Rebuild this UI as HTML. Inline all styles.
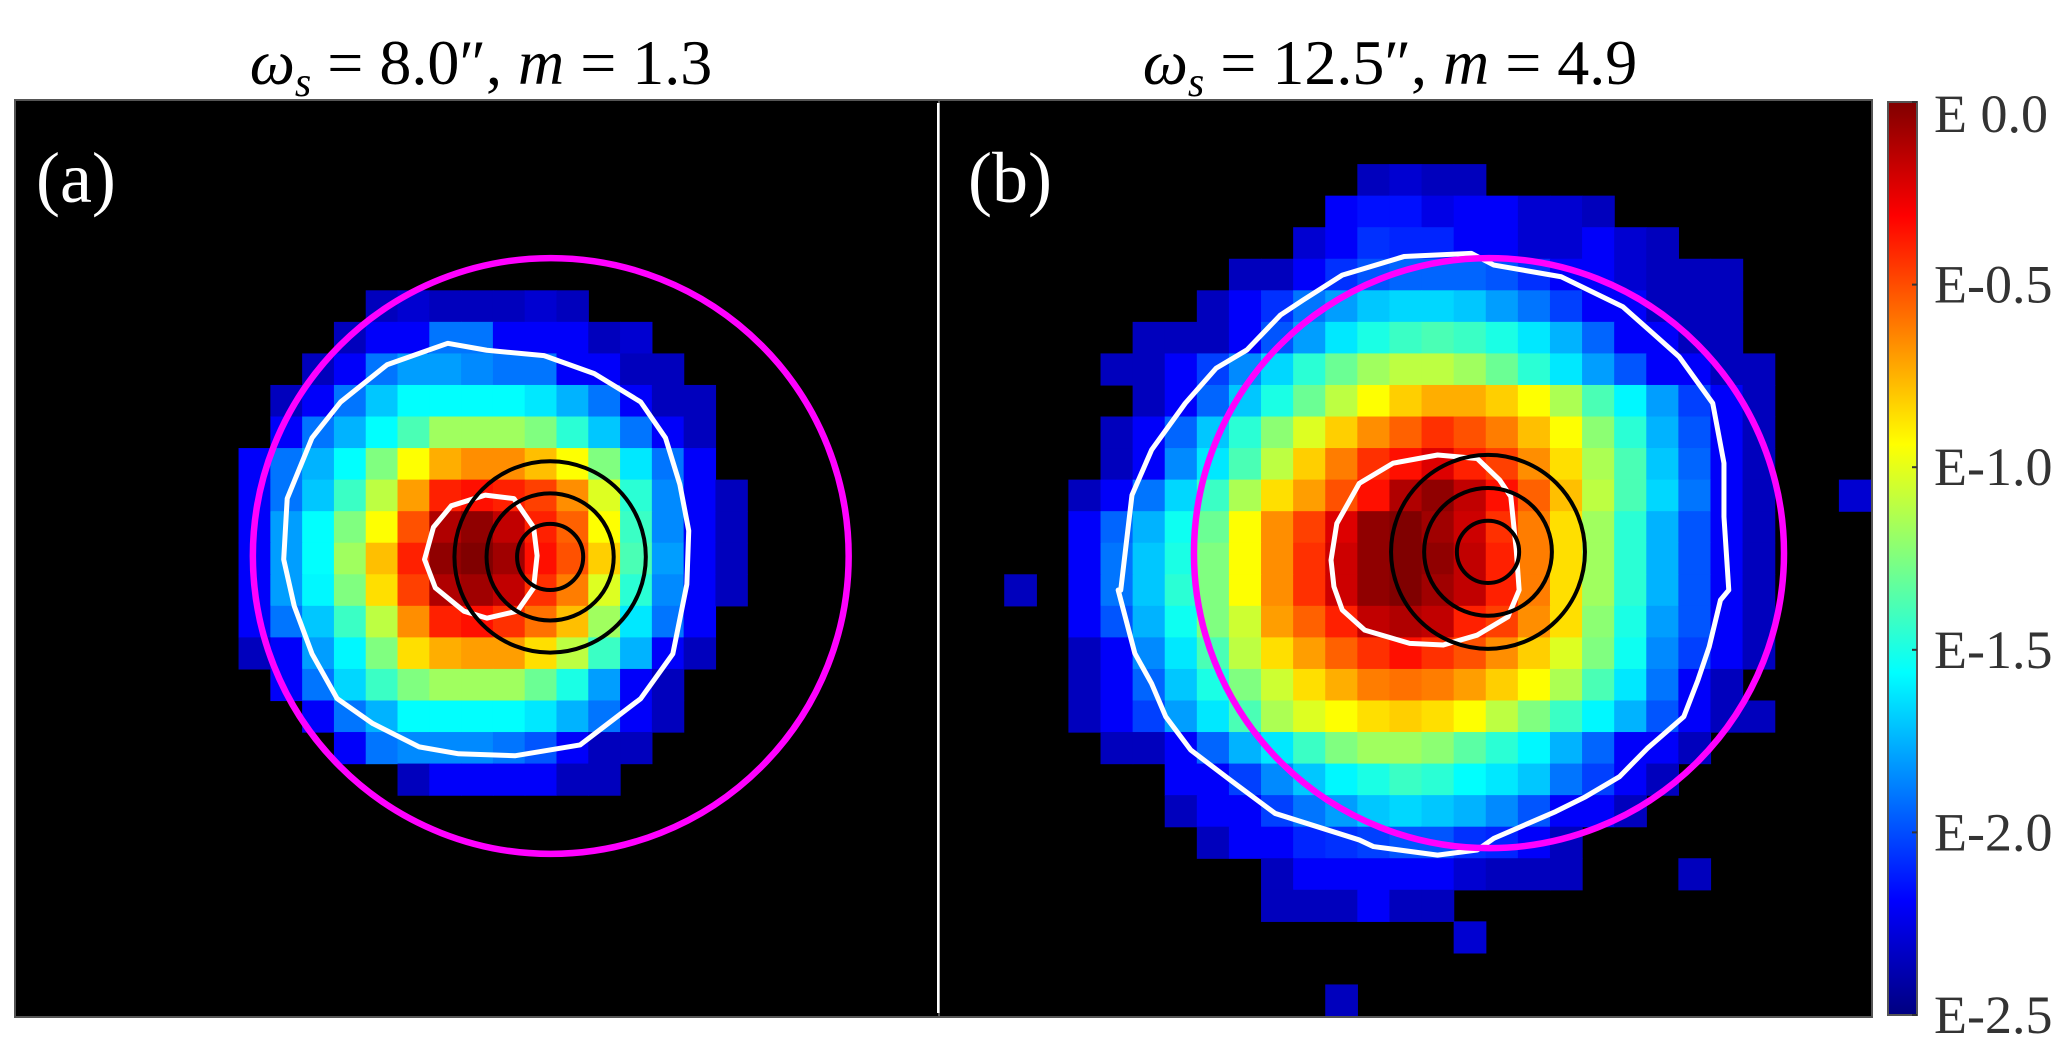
<!DOCTYPE html>
<html><head><meta charset="utf-8"><style>
html,body{margin:0;padding:0;background:#fff;}
svg{display:block;}
text{font-family:"Liberation Serif","DejaVu Serif",serif;}
</style></head><body>
<svg id="fig" width="2067" height="1054" viewBox="0 0 2067 1054" xmlns="http://www.w3.org/2000/svg">
<defs>
<linearGradient id="jet" x1="0" y1="1" x2="0" y2="0">
<stop offset="0" stop-color="#000080"/><stop offset="0.125" stop-color="#0000ff"/><stop offset="0.375" stop-color="#00ffff"/><stop offset="0.625" stop-color="#ffff00"/><stop offset="0.875" stop-color="#ff0000"/><stop offset="1" stop-color="#800000"/>
</linearGradient>
<clipPath id="clipA"><rect x="16" y="101" width="922" height="915"/></clipPath>
<clipPath id="clipB"><rect x="940" y="101" width="931" height="915"/></clipPath>
</defs>
<text x="481" y="84" font-size="64" text-anchor="middle" xml:space="preserve"><tspan font-style="italic">ω</tspan><tspan font-style="italic" font-size="42" dy="12">s</tspan><tspan dy="-12"> = 8.0″, </tspan><tspan font-style="italic">m</tspan><tspan> = 1.3</tspan></text>
<text x="1390" y="84" font-size="64" text-anchor="middle" xml:space="preserve"><tspan font-style="italic">ω</tspan><tspan font-style="italic" font-size="42" dy="12">s</tspan><tspan dy="-12"> = 12.5″, </tspan><tspan font-style="italic">m</tspan><tspan> = 4.9</tspan></text>
<rect x="15" y="100" width="924" height="917" fill="#000" stroke="#555" stroke-width="2"/>
<rect x="939" y="100" width="933" height="917" fill="#000" stroke="#555" stroke-width="2"/>
<g id="cellsA" clip-path="url(#clipA)"></g>
<g id="cellsB" clip-path="url(#clipB)"></g>
<g id="overA" clip-path="url(#clipA)"></g>
<g id="overB" clip-path="url(#clipB)"></g>
<rect x="937" y="103" width="2.5" height="910" fill="#fff"/>
<text x="36" y="202" font-size="72" fill="#fff">(a)</text>
<text x="968" y="202" font-size="72" fill="#fff">(b)</text>
<rect x="1888" y="102" width="29" height="913" fill="url(#jet)" stroke="#555" stroke-width="2"/>
<g id="cbTicks"></g>
</svg>
<script>
// colour-scale ticks
const cbTickValues = [0, -0.5, -1.0, -1.5, -2.0, -2.5];
const cbTickLabels = ["E 0.0", "E-0.5", "E-1.0", "E-1.5", "E-2.0", "E-2.5"];

// Panel (a) heatmap: log10 intensity per cell
const aRows = [6,7,8,9,10,11,12,13,14,15,16,17,18,19,20,21];
const aStarts = [11,10,9,8,8,7,7,7,7,7,7,7,8,9,10,12];
const aValues = [
[-2.35,-2.3,-2.35,-2.35,-2.35,-2.3,-2.35],
[-2.35,-2.2,-2.2,-1.9,-1.9,-2.2,-2.2,-2.2,-2.35,-2.3],
[-2.35,-2.2,-1.9,-1.8,-1.8,-1.85,-1.9,-1.9,-2.2,-2.2,-2.35,-2.35],
[-2.35,-2.2,-1.9,-1.7,-1.56,-1.56,-1.56,-1.56,-1.62,-1.75,-1.9,-2.2,-2.35,-2.35],
[-2.2,-1.9,-1.75,-1.56,-1.38,-1.17,-1.17,-1.17,-1.25,-1.46,-1.7,-1.9,-2.2,-2.35],
[-2.2,-1.9,-1.75,-1.56,-1.25,-0.94,-0.74,-0.66,-0.66,-0.78,-0.94,-1.25,-1.62,-1.9,-2.2],
[-2.2,-1.9,-1.7,-1.42,-1.1,-0.7,-0.39,-0.35,-0.39,-0.47,-0.66,-1.02,-1.46,-1.85,-2.2,-2.35],
[-2.2,-1.8,-1.56,-1.25,-0.94,-0.51,-0.12,-0.04,-0.16,-0.39,-0.55,-0.94,-1.42,-1.85,-2.2,-2.35],
[-2.2,-1.8,-1.56,-1.17,-0.78,-0.39,-0.04,0,-0.08,-0.35,-0.51,-0.82,-1.38,-1.8,-2.2,-2.35],
[-2.2,-1.8,-1.58,-1.25,-0.86,-0.47,-0.12,-0.08,-0.16,-0.43,-0.62,-1.02,-1.46,-1.85,-2.2,-2.35],
[-2.2,-1.9,-1.7,-1.42,-1.1,-0.66,-0.39,-0.35,-0.43,-0.59,-0.78,-1.17,-1.62,-1.9,-2.2],
[-2.35,-2.2,-1.8,-1.58,-1.25,-0.86,-0.74,-0.7,-0.7,-0.86,-1.1,-1.42,-1.75,-2.2,-2.35],
[-2.2,-1.9,-1.66,-1.42,-1.25,-1.17,-1.17,-1.17,-1.3,-1.5,-1.8,-2.2,-2.35],
[-2.2,-1.9,-1.75,-1.56,-1.56,-1.56,-1.56,-1.62,-1.75,-1.9,-2.2,-2.35],
[-2.2,-1.9,-1.85,-1.85,-1.85,-1.9,-1.98,-2.2,-2.35,-2.35],
[-2.35,-2.2,-2.2,-2.2,-2.2,-2.35,-2.35]
];

// Panel (b) heatmap
const bRows = [2,3,4,5,6,7,8,9,10,11,12,12,13,14,15,15,16,17,18,19,20,21,22,23,24,24,25,26,28];
const bStarts = [13,12,11,9,8,6,5,6,5,5,4,28,4,4,4,2,4,4,4,4,5,7,7,8,10,23,10,16,12];
const bValues = [
[-2.35,-2.3,-2.35,-2.35],
[-2.2,-2.15,-2.15,-2.25,-2.2,-2.2,-2.3,-2.3,-2.35],
[-2.3,-2.2,-2.07,-2.1,-2.1,-2.2,-2.2,-2.3,-2.3,-2.2,-2.3,-2.35],
[-2.35,-2.35,-2.2,-2.07,-1.98,-1.94,-1.94,-1.94,-1.98,-2.07,-2.2,-2.2,-2.3,-2.35,-2.35,-2.35],
[-2.35,-2.2,-2.07,-1.9,-1.8,-1.7,-1.66,-1.66,-1.7,-1.8,-1.9,-2.03,-2.2,-2.2,-2.35,-2.35,-2.35],
[-2.35,-2.35,-2.35,-2.2,-1.98,-1.8,-1.62,-1.5,-1.42,-1.38,-1.42,-1.5,-1.62,-1.75,-1.94,-2.2,-2.2,-2.35,-2.35],
[-2.35,-2.35,-2.2,-2.03,-1.85,-1.66,-1.46,-1.3,-1.17,-1.1,-1.1,-1.17,-1.3,-1.46,-1.62,-1.8,-1.98,-2.2,-2.2,-2.35,-2.35],
[-2.35,-2.2,-1.94,-1.7,-1.5,-1.3,-1.1,-0.94,-0.82,-0.74,-0.74,-0.82,-0.94,-1.14,-1.38,-1.58,-1.8,-2.03,-2.2,-2.35],
[-2.35,-2.2,-1.94,-1.7,-1.46,-1.22,-1.02,-0.82,-0.66,-0.55,-0.43,-0.51,-0.62,-0.78,-0.94,-1.22,-1.46,-1.75,-1.98,-2.2,-2.35],
[-2.35,-2.2,-1.85,-1.62,-1.38,-1.1,-0.82,-0.62,-0.43,-0.35,-0.23,-0.39,-0.47,-0.66,-0.86,-1.14,-1.38,-1.7,-1.94,-2.2,-2.35],
[-2.35,-2.2,-1.9,-1.66,-1.42,-1.14,-0.86,-0.7,-0.51,-0.35,-0.12,-0.04,-0.16,-0.35,-0.55,-0.78,-1.1,-1.38,-1.66,-1.9,-2.2,-2.35],
[-2.3],
[-2.2,-1.94,-1.75,-1.53,-1.3,-0.94,-0.66,-0.47,-0.23,-0.04,0,-0.08,-0.19,-0.43,-0.62,-0.86,-1.17,-1.46,-1.75,-1.98,-2.2,-2.35],
[-2.2,-1.9,-1.7,-1.5,-1.25,-0.94,-0.66,-0.43,-0.19,-0.04,0,-0.04,-0.16,-0.39,-0.62,-0.86,-1.17,-1.46,-1.75,-1.98,-2.2,-2.35],
[-2.2,-1.9,-1.7,-1.46,-1.25,-0.94,-0.66,-0.43,-0.19,-0.04,0,-0.08,-0.16,-0.39,-0.62,-0.86,-1.17,-1.46,-1.75,-1.98,-2.2,-2.35],
[-2.35],
[-2.2,-1.98,-1.75,-1.53,-1.25,-1.06,-0.7,-0.55,-0.39,-0.16,-0.12,-0.16,-0.39,-0.47,-0.66,-0.86,-1.22,-1.5,-1.8,-1.98,-2.2,-2.35],
[-2.35,-2.2,-1.85,-1.62,-1.38,-1.1,-0.86,-0.7,-0.55,-0.43,-0.35,-0.43,-0.51,-0.66,-0.82,-1.02,-1.25,-1.53,-1.85,-2.03,-2.2,-2.35],
[-2.35,-2.2,-1.94,-1.7,-1.5,-1.25,-1.06,-0.86,-0.74,-0.62,-0.59,-0.62,-0.7,-0.82,-0.94,-1.14,-1.38,-1.62,-1.9,-2.2,-2.35],
[-2.35,-2.2,-2.03,-1.8,-1.62,-1.38,-1.14,-1.02,-0.94,-0.86,-0.82,-0.86,-0.94,-1.1,-1.25,-1.42,-1.58,-1.75,-1.98,-2.2,-2.35,-2.35],
[-2.35,-2.35,-2.2,-1.94,-1.75,-1.62,-1.42,-1.25,-1.17,-1.17,-1.22,-1.34,-1.46,-1.58,-1.75,-1.94,-2.2,-2.2,-2.35],
[-2.2,-2.2,-2.03,-1.85,-1.7,-1.58,-1.5,-1.42,-1.46,-1.56,-1.62,-1.7,-1.9,-2.03,-2.2,-2.35],
[-2.35,-2.2,-2.2,-2.03,-1.9,-1.8,-1.7,-1.66,-1.7,-1.75,-1.85,-1.98,-2.2,-2.2,-2.35],
[-2.35,-2.2,-2.2,-2.1,-2.07,-2.03,-1.98,-1.98,-2.07,-2.1,-2.2,-2.35],
[-2.35,-2.2,-2.2,-2.2,-2.2,-2.2,-2.3,-2.35,-2.35,-2.35],
[-2.35],
[-2.35,-2.35,-2.35,-2.2,-2.35,-2.35],
[-2.3],
[-2.35]
];

// contours (grid units: column, row)
const aInnerContourX = [12.85,13.13,13.69,14.76,15.66,16.28,16.39,16.28,15.77,14.81,14.09,13.19];
const aInnerContourY = [14.53,13.51,12.83,12.49,12.6,13.51,14.41,15.43,16.17,16.39,16.17,15.43];
const aOuterContourX = [8.42,8.53,9.31,10.21,11.67,13.58,14.81,16.61,18.19,19.65,20.43,20.88,21.16,21.1,20.66,19.65,17.74,15.71,13.92,12.68,11.22,10.1,9.31,8.75];
const aOuterContourY = [14.53,12.6,10.68,9.54,8.36,7.68,7.9,8.07,8.64,9.54,10.68,12.15,13.62,15.32,17.52,18.94,20.41,20.75,20.69,20.47,19.73,18.94,17.52,16.0];
const bInnerContourX = [12.18,12.36,13.06,14.11,15.5,16.73,17.43,17.78,17.95,18.04,17.69,16.73,15.68,14.63,13.23,12.53,12.27];
const bInnerContourY = [14.55,13.39,12.12,11.48,11.22,11.33,12.01,12.54,14.23,15.5,16.35,16.93,17.24,17.19,16.77,16.13,15.39];
const bOuterContourX = [5.63,5.98,6.59,7.64,8.6,9.56,10.61,11.31,12.53,14.45,16.55,17.25,19.35,21.27,23.02,24.07,24.42,24.42,24.57,24.31,23.96,23.61,23.17,22.03,21.16,20.11,19.18,17.25,16.73,15.5,13.5,13.06,10.44,9.04,7.81,7.03,6.59,6.07,5.55];
const bOuterContourY = [15.5,12.49,11.06,9.58,8.47,7.89,6.78,6.31,5.52,4.93,4.83,5.2,5.57,6.52,8.1,9.58,11.48,13.18,15.5,15.82,17.3,18.35,19.51,20.52,21.42,22.05,22.52,23.37,23.74,23.9,23.63,23.42,22.58,21.52,20.57,19.51,18.46,17.51,15.5];

// circles (grid units)
const aAperture = {cx:16.82, cy:14.42, r:9.37};
const aRingsCenter = {cx:16.8, cy:14.45};
const aRingRadii = [1.04, 2.0, 3.01];
const bAperture = {cx:17.1, cy:14.33, r:9.19};
const bRingsCenter = {cx:17.07, cy:14.29};
const bRingRadii = [0.97, 1.99, 3.02];

const NS = "http://www.w3.org/2000/svg";
const vMin = -2.5, vMax = 0;
function jet(v){
  let t = (v - vMin)/(vMax - vMin); t = Math.max(0, Math.min(1, t));
  const c = x => Math.round(255*Math.max(0, Math.min(1, x)));
  return `rgb(${c(Math.min(4*t-1.5, -4*t+4.5))},${c(Math.min(4*t-0.5, -4*t+3.5))},${c(Math.min(4*t+0.5, -4*t+2.5))})`;
}
function makeAxes(x0, y0, w, h, n){
  const cw = w/n, ch = h/n;
  return {cw, ch, x: c => x0 + c*cw, y: r => y0 + r*ch};
}
const axA = makeAxes(16, 101, 922, 915, 29);
const axB = makeAxes(940, 101, 931, 915, 29);

function drawCells(g, ax, rows, starts, values){
  rows.forEach((r, i) => {
    values[i].forEach((v, j) => {
      const c = starts[i] + j;
      const rect = document.createElementNS(NS, "rect");
      rect.setAttribute("x", ax.x(c)); rect.setAttribute("y", ax.y(r));
      rect.setAttribute("width", ax.cw + 0.6); rect.setAttribute("height", ax.ch + 0.6);
      rect.setAttribute("fill", jet(v));
      
      
      g.appendChild(rect);
    });
  });
}
function drawPoly(g, ax, xs, ys, color, width, name){
  const p = document.createElementNS(NS, "polygon");
  p.setAttribute("points", xs.map((x, i) => ax.x(x) + "," + ax.y(ys[i])).join(" "));
  p.setAttribute("fill", "none"); p.setAttribute("stroke", color);
  p.setAttribute("stroke-width", width); p.setAttribute("stroke-linejoin", "round");
  
  
  g.appendChild(p);
}
function drawCircle(g, ax, cx, cy, r, color, width, name){
  const c = document.createElementNS(NS, "circle");
  c.setAttribute("cx", ax.x(cx)); c.setAttribute("cy", ax.y(cy)); c.setAttribute("r", r*ax.cw);
  c.setAttribute("fill", "none"); c.setAttribute("stroke", color); c.setAttribute("stroke-width", width);
  
  
  g.appendChild(c);
}
drawCells(document.getElementById("cellsA"), axA, aRows, aStarts, aValues);
drawCells(document.getElementById("cellsB"), axB, bRows, bStarts, bValues);

const oA = document.getElementById("overA"), oB = document.getElementById("overB");
drawPoly(oA, axA, aOuterContourX, aOuterContourY, "#fff", 5, "outer-contour-a");
drawPoly(oA, axA, aInnerContourX, aInnerContourY, "#fff", 5, "inner-contour-a");
drawCircle(oA, axA, aAperture.cx, aAperture.cy, aAperture.r, "#ff00ff", 6.5, "aperture-circle-a");
aRingRadii.forEach(r => drawCircle(oA, axA, aRingsCenter.cx, aRingsCenter.cy, r, "#000", 4, "ring-a"));
drawPoly(oB, axB, bOuterContourX, bOuterContourY, "#fff", 5, "outer-contour-b");
drawPoly(oB, axB, bInnerContourX, bInnerContourY, "#fff", 5, "inner-contour-b");
drawCircle(oB, axB, bAperture.cx, bAperture.cy, bAperture.r, "#ff00ff", 6.5, "aperture-circle-b");
bRingRadii.forEach(r => drawCircle(oB, axB, bRingsCenter.cx, bRingsCenter.cy, r, "#000", 4, "ring-b"));

// colorbar ticks
const cbTop = 102, cbBot = 1015;
const cbY = v => cbBot - (v - vMin)/(vMax - vMin)*(cbBot - cbTop);
const tg = document.getElementById("cbTicks");
cbTickValues.forEach((v, i) => {
  const y = cbY(v);
  const tk = document.createElementNS(NS, "line");
  tk.setAttribute("x1", 1912); tk.setAttribute("x2", 1917); tk.setAttribute("y1", y); tk.setAttribute("y2", y);
  tk.setAttribute("stroke", "#333"); tk.setAttribute("stroke-width", 2);
  
  
  tg.appendChild(tk);
  const t = document.createElementNS(NS, "text");
  t.setAttribute("x", 1934);
  t.setAttribute("y", Math.max(y, 114) + 18);
  t.setAttribute("font-size", "54"); t.setAttribute("fill", "#333");
  t.textContent = cbTickLabels[i];
  
  
  tg.appendChild(t);
});
</script>
</body></html>
